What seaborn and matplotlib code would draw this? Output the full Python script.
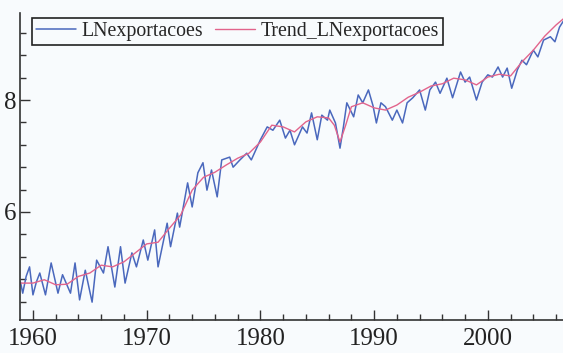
import matplotlib
matplotlib.use("Agg")
import matplotlib.pyplot as plt
import seaborn as sns
import pandas as pd
from matplotlib.ticker import MultipleLocator

# ---- data (decimal years, log exports) ----
obs_year = [1958.9, 1959.1, 1959.4, 1959.7, 1960.0, 1960.3, 1960.6, 1961.1, 1961.6,
            1962.2, 1962.6, 1963.3, 1963.7, 1964.1, 1964.6, 1965.2, 1965.6, 1966.2,
            1966.6, 1967.2, 1967.7, 1968.1, 1968.7, 1969.1, 1969.7, 1970.1, 1970.7,
            1971.0, 1971.8, 1972.1, 1972.7, 1972.9, 1973.6, 1974.0, 1974.5, 1974.95,
            1975.3, 1975.7, 1976.2, 1976.6, 1977.3, 1977.6, 1978.2, 1978.8, 1979.2,
            1980.0, 1980.6, 1981.1, 1981.7, 1982.2, 1982.6, 1983.0, 1983.7, 1984.1,
            1984.5, 1985.0, 1985.4, 1985.9, 1986.1, 1986.6, 1987.0, 1987.3, 1987.6,
            1988.2, 1988.6, 1989.0, 1989.5, 1989.9, 1990.2, 1990.6, 1991.0, 1991.6,
            1992.0, 1992.5, 1992.9, 1993.4, 1994.0, 1994.5, 1994.9, 1995.4, 1995.8,
            1996.4, 1996.9, 1997.6, 1998.0, 1998.4, 1999.0, 1999.5, 2000.0, 2000.4,
            2000.9, 2001.3, 2001.7, 2002.1, 2002.6, 2003.0, 2003.4, 2004.0, 2004.4,
            2004.9, 2005.5, 2005.9, 2006.3, 2006.8]
obs_value = [4.75, 4.55, 4.85, 5.02, 4.52, 4.75, 4.91, 4.52, 5.09,
             4.55, 4.88, 4.55, 5.09, 4.43, 4.96, 4.39, 5.14, 4.91,
             5.38, 4.66, 5.38, 4.73, 5.27, 5.02, 5.50, 5.14, 5.68,
             5.02, 5.80, 5.38, 5.98, 5.73, 6.52, 6.09, 6.70, 6.88,
             6.39, 6.75, 6.27, 6.93, 6.98, 6.80, 6.93, 7.05, 6.93,
             7.29, 7.52, 7.46, 7.64, 7.32, 7.46, 7.20, 7.52, 7.41,
             7.77, 7.29, 7.73, 7.64, 7.82, 7.59, 7.14, 7.52, 7.95,
             7.70, 8.09, 7.95, 8.18, 7.90, 7.59, 7.95, 7.88, 7.64,
             7.82, 7.59, 7.95, 8.04, 8.18, 7.82, 8.18, 8.32, 8.12,
             8.39, 8.04, 8.50, 8.32, 8.41, 8.00, 8.32, 8.45, 8.41,
             8.59, 8.41, 8.57, 8.21, 8.54, 8.71, 8.63, 8.89, 8.77,
             9.07, 9.13, 9.04, 9.30, 9.46]

trend_year = [1958.9, 1960, 1961, 1962, 1963, 1964, 1965, 1966, 1967, 1968, 1969,
              1970, 1971, 1972, 1973, 1974, 1975, 1976, 1977, 1978, 1979, 1980,
              1981, 1982, 1983, 1984, 1985, 1986, 1986.5, 1987, 1987.5, 1988, 1989,
              1990, 1991, 1992, 1993, 1994, 1995, 1996, 1997, 1998, 1999, 2000,
              2001, 2002, 2003, 2004, 2005, 2006, 2006.7]
trend_value = [4.73, 4.73, 4.79, 4.70, 4.71, 4.85, 4.91, 5.05, 5.02, 5.11, 5.27,
               5.43, 5.46, 5.71, 5.95, 6.39, 6.62, 6.71, 6.84, 6.96, 7.05, 7.25,
               7.55, 7.52, 7.43, 7.61, 7.70, 7.68, 7.55, 7.25, 7.55, 7.88, 7.95,
               7.86, 7.82, 7.91, 8.05, 8.14, 8.25, 8.29, 8.39, 8.36, 8.27, 8.41,
               8.46, 8.43, 8.68, 8.89, 9.14, 9.34, 9.46]

series_names = ["LNexportacoes", "Trend_LNexportacoes"]
x_ticks = [1960, 1970, 1980, 1990, 2000]
y_ticks = [6, 8]

# ---- styling ----
sns.set_theme(style="ticks")
plt.rcParams["font.family"] = ["Liberation Serif", "DejaVu Serif"]
BG = "#f8fbfd"
BLUE = "#4a68bd"
PINK = "#e2648c"

fig = plt.figure(figsize=(5.63, 3.53), dpi=100, facecolor=BG)
ax = fig.add_axes([20 / 563, 1 - 320 / 353, 543 / 563, 307 / 353])
ax.set_facecolor(BG)

df_obs = pd.DataFrame({"year": obs_year, "value": obs_value})
df_tr = pd.DataFrame({"year": trend_year, "value": trend_value})

sns.lineplot(data=df_obs, x="year", y="value", ax=ax, color=BLUE, lw=1.1,
             label=series_names[0], sort=False)
sns.lineplot(data=df_tr, x="year", y="value", ax=ax, color=PINK, lw=1.0,
             label=series_names[1], sort=False)

ax.set_xlim(1958.86, 2006.61)
ax.set_ylim(4.071, 9.554)
ax.set_xlabel("")
ax.set_ylabel("")

ax.set_xticks(x_ticks)
ax.set_xticklabels([str(t) for t in x_ticks])
ax.xaxis.set_minor_locator(MultipleLocator(2))
ax.set_yticks(y_ticks)
ax.set_yticklabels([str(t) for t in y_ticks])
ax.yaxis.set_minor_locator(MultipleLocator(0.4))

for s in ["top", "right"]:
    ax.spines[s].set_visible(False)
for s in ["left", "bottom"]:
    ax.spines[s].set_color("#333333")
    ax.spines[s].set_linewidth(1.2)

ax.tick_params(axis="both", which="major", direction="in", length=7, width=1.0,
               color="#333333", labelsize=18, labelcolor="#222222")
ax.tick_params(axis="both", which="minor", direction="in", length=4, width=1.0,
               color="#333333")
ax.tick_params(axis="x", which="major", pad=6)
ax.tick_params(axis="y", which="major", pad=2.5)

leg = ax.legend(loc="upper left", bbox_to_anchor=(12 / 543, (320 - 18) / 307),
                borderaxespad=0, ncol=2, fontsize=14.3, frameon=True,
                fancybox=False, handlelength=2.0, handletextpad=0.3,
                columnspacing=0.6, borderpad=0.2)
leg.get_frame().set_edgecolor("#222222")
leg.get_frame().set_linewidth(1.2)
leg.get_frame().set_facecolor(BG)
leg.get_frame().set_alpha(1)

fig.savefig("out.png", dpi=100, facecolor=BG)
